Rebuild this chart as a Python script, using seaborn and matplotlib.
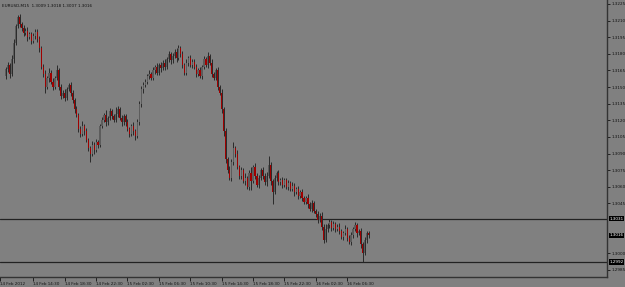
import numpy as np
import pandas as pd
import matplotlib
matplotlib.use("Agg")
import matplotlib.pyplot as plt
import seaborn as sns

# ---- data (EURUSD M15 closes) ----
closes = [
    1.3166, 1.3170, 1.3162, 1.3175, 1.3190, 1.3205, 1.3213, 1.3207, 1.3203, 1.3199,
    1.3201, 1.3195, 1.3198, 1.3192, 1.3196, 1.3200, 1.3193, 1.3185, 1.3168, 1.3162,
    1.3150, 1.3158, 1.3163, 1.3155, 1.3150, 1.3158, 1.3165, 1.3150, 1.3142, 1.3145,
    1.3140, 1.3148, 1.3152, 1.3145, 1.3138, 1.3130, 1.3125, 1.3112, 1.3108, 1.3115,
    1.3110, 1.3102, 1.3095, 1.3090, 1.3098, 1.3093, 1.3100, 1.3098, 1.3115, 1.3120,
    1.3125, 1.3118, 1.3122, 1.3128, 1.3124, 1.3120, 1.3126, 1.3130, 1.3122, 1.3118,
    1.3124, 1.3118, 1.3112, 1.3108, 1.3115, 1.3110, 1.3106, 1.3118, 1.3135, 1.3148,
    1.3152, 1.3155, 1.3160, 1.3162, 1.3158, 1.3165, 1.3168, 1.3163, 1.3170, 1.3167,
    1.3172, 1.3168, 1.3175, 1.3180, 1.3174, 1.3178, 1.3182, 1.3176, 1.3185, 1.3180,
    1.3170, 1.3163, 1.3172, 1.3176, 1.3170, 1.3173, 1.3168, 1.3162, 1.3165, 1.3160,
    1.3168, 1.3175, 1.3170, 1.3178, 1.3172, 1.3162, 1.3158, 1.3165, 1.3150, 1.3145,
    1.3130, 1.3110, 1.3085, 1.3075, 1.3068, 1.3082, 1.3095, 1.3090, 1.3078, 1.3070,
    1.3075, 1.3065, 1.3068, 1.3060, 1.3072, 1.3065, 1.3078, 1.3070, 1.3062, 1.3068,
    1.3075, 1.3070, 1.3064, 1.3070, 1.3080, 1.3065, 1.3055, 1.3068, 1.3072, 1.3064,
    1.3066, 1.3062, 1.3066, 1.3060, 1.3063, 1.3058, 1.3061, 1.3055, 1.3058, 1.3052,
    1.3055, 1.3050, 1.3046, 1.3050, 1.3044, 1.3040, 1.3045, 1.3038, 1.3035, 1.3030,
    1.3034, 1.3024, 1.3012, 1.3022, 1.3025, 1.3028, 1.3023, 1.3026, 1.3022, 1.3024,
    1.3020, 1.3015, 1.3018, 1.3022, 1.3014, 1.3010, 1.3016, 1.3022, 1.3025, 1.3018,
    1.3020, 1.3008, 1.3000, 1.3012, 1.3018, 1.3016,
]
first_open = 1.3160

# upper / lower wick lengths in pips
wick_up = [
    2, 3, 2, 4, 3, 2, 2, 3, 2, 3,
    2, 3, 2, 2, 3, 2, 2, 3, 2, 3,
    3, 2, 4, 2, 3, 2, 5, 2, 3, 2,
    3, 2, 2, 3, 2, 2, 3, 2, 3, 4,
    2, 3, 2, 2, 3, 2, 3, 2, 2, 3,
    2, 4, 2, 3, 2, 2, 6, 3, 2, 3,
    2, 2, 3, 2, 2, 3, 2, 3, 2, 3,
    3, 2, 2, 3, 2, 3, 2, 4, 2, 3,
    2, 3, 2, 3, 2, 3, 2, 3, 3, 2,
    3, 2, 3, 2, 3, 2, 2, 3, 2, 3,
    2, 3, 2, 4, 2, 3, 2, 2, 3, 2,
    3, 2, 3, 2, 4, 3, 5, 2, 3, 2,
    3, 2, 4, 2, 3, 6, 2, 3, 2, 3,
    2, 3, 2, 3, 8, 2, 2, 3, 2, 3,
    2, 3, 2, 2, 3, 2, 3, 2, 2, 3,
    2, 3, 2, 2, 3, 2, 3, 2, 2, 3,
    2, 3, 2, 4, 2, 3, 2, 3, 2, 2,
    3, 2, 2, 3, 2, 2, 3, 2, 3, 2,
    2, 3, 2, 3, 2, 2,
]
wick_dn = [
    3, 2, 4, 2, 3, 2, 2, 3, 2, 3,
    2, 3, 2, 3, 2, 3, 2, 3, 2, 3,
    5, 2, 3, 2, 3, 2, 2, 3, 3, 2,
    3, 2, 2, 3, 2, 3, 2, 3, 3, 2,
    3, 2, 3, 8, 2, 3, 2, 3, 2, 2,
    2, 3, 2, 2, 3, 2, 2, 3, 2, 3,
    2, 3, 2, 3, 2, 3, 4, 2, 2, 3,
    3, 2, 2, 3, 2, 2, 3, 2, 2, 3,
    2, 3, 2, 2, 3, 2, 2, 3, 2, 3,
    3, 2, 2, 3, 2, 3, 2, 3, 2, 2,
    3, 2, 2, 3, 2, 3, 2, 2, 3, 2,
    3, 4, 4, 3, 2, 3, 2, 3, 2, 3,
    3, 2, 3, 2, 3, 8, 2, 3, 2, 3,
    2, 3, 2, 3, 2, 3, 11, 2, 3, 2,
    2, 3, 2, 2, 3, 2, 2, 3, 2, 3,
    2, 3, 2, 2, 3, 2, 3, 2, 2, 3,
    2, 3, 3, 2, 3, 2, 3, 2, 3, 2,
    3, 2, 3, 2, 3, 2, 3, 2, 2, 3,
    2, 3, 8, 2, 3, 2,
]

y_ticks = [1.2985, 1.3000, 1.3045, 1.3060, 1.3075, 1.3090, 1.3105, 1.3120,
           1.3135, 1.3150, 1.3165, 1.3180, 1.3195, 1.3210, 1.3225]
x_tick_bars = [-3, 14, 30, 46, 62, 78, 94, 110, 126, 142, 158, 174]
x_tick_labels = ["14 Feb 2012", "14 Feb 14:30", "14 Feb 18:30", "14 Feb 22:30",
                 "15 Feb 02:30", "15 Feb 06:30", "15 Feb 10:30", "15 Feb 14:30",
                 "15 Feb 18:30", "15 Feb 22:30", "16 Feb 02:30", "16 Feb 06:30"]
level_lines = [1.3031, 1.2992]
bid_price = 1.3016
title = "EURUSD,M15  1.3009 1.3018 1.3007 1.3016"

# ---- build OHLC frame ----
opens = [first_open] + closes[:-1]
df = pd.DataFrame({"open": opens, "close": closes})
df["bar"] = np.arange(len(df))
df["high"] = df[["open", "close"]].max(axis=1) + np.array(wick_up) * 0.0001
df["low"] = df[["open", "close"]].min(axis=1) - np.array(wick_dn) * 0.0001
df["bull"] = df["close"] >= df["open"]

sns.set_theme(style="dark")
BG = "#808080"
plt.rcParams["font.family"] = ["DejaVu Sans"]
FS = 3.0

W, H = 625, 287
fig = plt.figure(figsize=(W / 100, H / 100), dpi=100, facecolor=BG)
ax = fig.add_axes([0, 10 / H, 607 / W, 277 / H])
ax.set_facecolor(BG)

# wicks
ax.vlines(df["bar"], df["low"], df["high"], color="#2a2a2a", linewidth=0.7, zorder=2)
# bodies
body_bot = df[["open", "close"]].min(axis=1)
body_h = (df["close"] - df["open"]).abs().clip(lower=0.00004)
colors = np.where(df["bull"], "#5c5c5c", "#a00000")
ax.bar(df["bar"], body_h, bottom=body_bot, width=0.6, color=colors,
       edgecolor="none", zorder=3)

for lv in level_lines:
    ax.axhline(lv, color="#222222", linewidth=0.9, zorder=1)

ax.set_xlim(-0.5, 306.5)
ax.set_ylim(1.29785, 1.32286)

ax.yaxis.tick_right()
ax.set_yticks(y_ticks)
ax.set_yticklabels([f"{v:.4f}" for v in y_ticks])
ax.tick_params(axis="y", direction="out", length=2, width=0.6, pad=1.5,
               labelsize=FS, colors="#111111", right=True, left=False)

ax.set_xticks(x_tick_bars)
ax.set_xticklabels(x_tick_labels, ha="left")
ax.tick_params(axis="x", direction="out", length=3, width=0.6, pad=0.5,
               labelsize=FS, colors="#111111", bottom=True)

for sp in ["top", "left"]:
    ax.spines[sp].set_visible(False)
for sp in ["right", "bottom"]:
    ax.spines[sp].set_visible(True)
    ax.spines[sp].set_color("#333333")
    ax.spines[sp].set_linewidth(1.0)
ax.grid(False)

# highlighted price labels
for pv in [level_lines[0], bid_price, level_lines[1]]:
    ax.text(1.004, pv, f"{pv:.4f}", transform=ax.get_yaxis_transform(),
            ha="left", va="center", fontsize=FS, color="white",
            bbox=dict(boxstyle="square,pad=0.15", fc="black", ec="none"),
            clip_on=False, zorder=5)

fig.text(2 / W, 1 - 6 / H, title, ha="left", va="center", fontsize=FS,
         color="#111111")

fig.savefig("out.png", dpi=100, facecolor=BG)
